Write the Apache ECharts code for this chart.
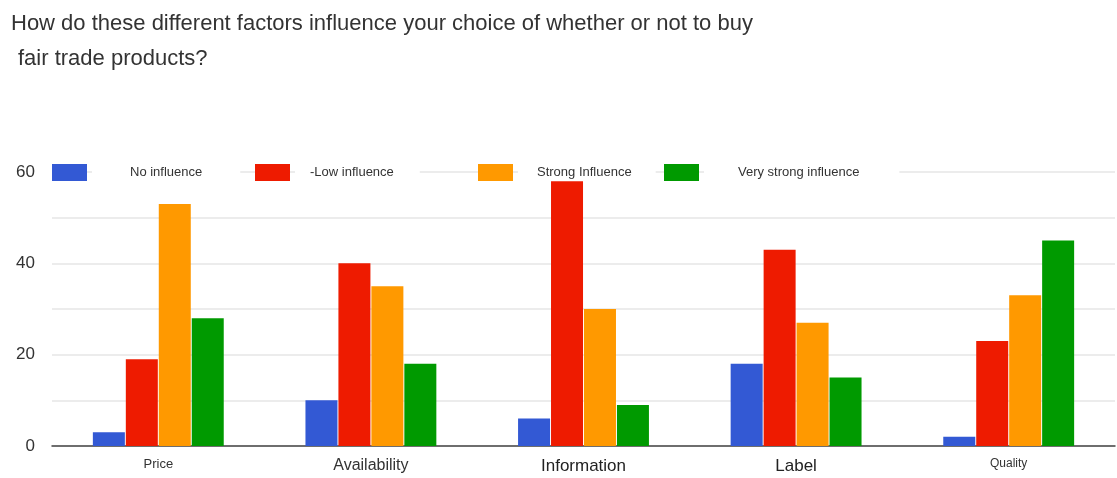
<!DOCTYPE html>
<html>
<head>
<meta charset="utf-8">
<style>
  html, body { margin: 0; padding: 0; background: #fff; }
  #chart { width: 1117px; height: 478px; }
</style>
<script src="https://cdn.jsdelivr.net/npm/echarts@6/dist/echarts.min.js"></script>
</head>
<body>
<div id="chart"></div>
<script>
const categories = ['Price', 'Availability', 'Information', 'Label', 'Quality']
const seriesNames = ['No influence', '-Low influence', 'Strong Influence', 'Very strong influence']
const noInfluence = [3, 10, 6, 18, 2]
const lowInfluence = [19, 40, 58, 43, 23]
const strongInfluence = [53, 35, 30, 27, 33]
const veryStrongInfluence = [28, 18, 9, 15, 45]

const COLORS = ['#3359d4', '#ee1b00', '#ff9900', '#009a00']
const seriesData = [noInfluence, lowInfluence, strongInfluence, veryStrongInfluence]

// label sizes differ per category in the original screenshot
const LABEL_STYLE = { Price: 's', Availability: 'm', Information: 'b', Label: 'b', Quality: 'xs' }

const chart = echarts.init(document.getElementById('chart'), null, { renderer: 'canvas' })

const legendLefts = [47, 250, 473, 659]
const legendPads = [[2, 38, 2, 38], [2, 26, 2, 15], [2, 24, 2, 19], [2, 40, 2, 34]]

const option = {
  animation: false,
  textStyle: { fontFamily: 'Liberation Sans, Arial, sans-serif' },
  title: [
    { text: 'How do these different factors influence your choice of whether or not to buy',
      left: 6, top: 8, textStyle: { fontSize: 22, fontWeight: 'normal', color: '#333' } },
    { text: 'fair trade products?',
      left: 13, top: 43, textStyle: { fontSize: 22, fontWeight: 'normal', color: '#333' } },
  ],
  legend: seriesNames.map((n, i) => ({
    data: [n],
    left: legendLefts[i],
    top: 159,
    itemWidth: 35,
    itemHeight: 17,
    itemGap: 0,
    icon: 'rect',
    textStyle: {
      fontSize: 13, color: '#333', backgroundColor: '#fff', padding: legendPads[i],
    },
  })),
  grid: { left: 52, right: 2, top: 172, bottom: 32 },
  xAxis: {
    type: 'category',
    data: categories,
    axisTick: { show: false },
    axisLine: { lineStyle: { color: '#444', width: 1.5 } },
    axisLabel: {
      margin: 12,
      formatter: v => `{${LABEL_STYLE[v]}|${v}}`,
      rich: {
        xs: { fontSize: 12, color: '#333' },
        s: { fontSize: 13, color: '#333' },
        m: { fontSize: 16, color: '#333' },
        b: { fontSize: 17, color: '#222' },
      },
    },
  },
  yAxis: {
    type: 'value',
    min: 0, max: 60, interval: 10,
    axisLine: { show: false },
    axisTick: { show: false },
    axisLabel: {
      fontSize: 17, color: '#333', margin: 17,
      formatter: v => (v % 20 === 0 ? v : ''),
    },
    splitLine: { lineStyle: { color: '#e6e6e6', width: 1.5 } },
  },
  series: seriesNames.map((n, i) => ({
    name: n,
    type: 'bar',
    data: seriesData[i],
    barWidth: 32,
    barGap: '3%',
    itemStyle: { color: COLORS[i] },
  })),
}

chart.setOption(option)
</script>
</body>
</html>
